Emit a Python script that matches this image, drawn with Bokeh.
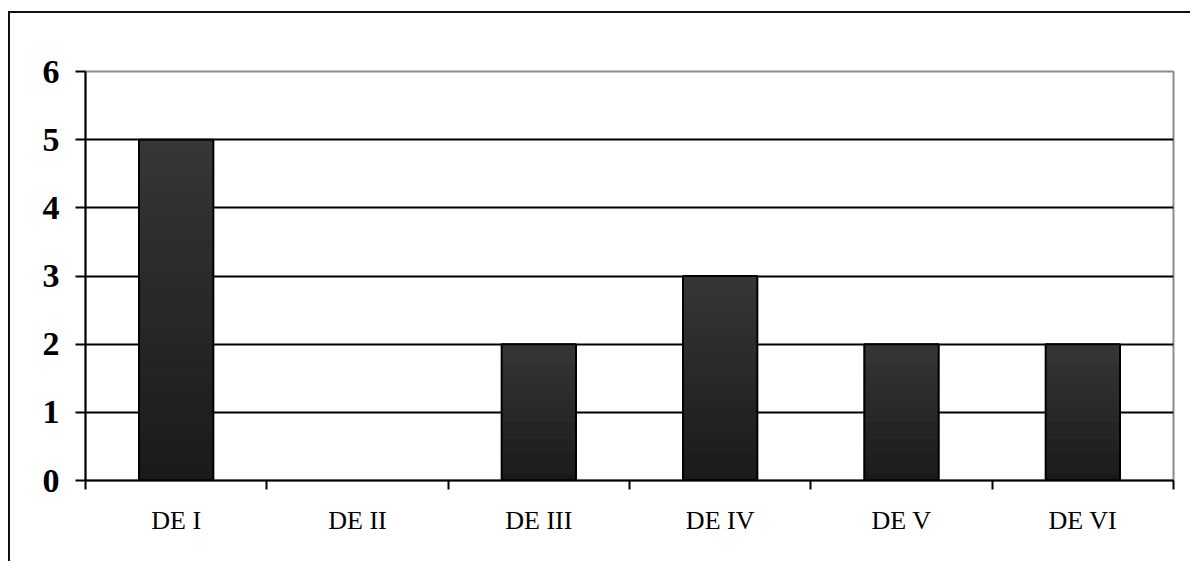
from bokeh.plotting import figure
from bokeh.models import FixedTicker, Range1d, ColumnDataSource
from bokeh.embed import file_html
from bokeh.resources import INLINE

categories = ["DE I", "DE II", "DE III", "DE IV", "DE V", "DE VI"]
values = [5, 0, 2, 3, 2, 2]
y_ticks = [0, 1, 2, 3, 4, 5, 6]

BAR_W = 0.41
N_SEG = 40
TOP_SHADE = 0x36
BOT_SHADE = 0x1a

p = figure(width=1182, height=550,
           x_range=Range1d(0, len(categories)), y_range=Range1d(0, 6),
           output_backend="svg", toolbar_location=None,
           min_border_left=75, min_border_top=58,
           min_border_right=19, min_border_bottom=83)
p.styles = {"border-left": "2px solid #111111", "border-top": "2px solid #111111",
            "margin-left": "8px", "margin-top": "11px"}

# gradient bars built from the data values
seg = dict(left=[], right=[], bottom=[], top=[], color=[])
for i, v in enumerate(values):
    if v <= 0:
        continue
    for k in range(N_SEG):
        t = (k + 0.5) / N_SEG
        c = int(round(BOT_SHADE + (TOP_SHADE - BOT_SHADE) * t))
        seg["left"].append(i + 0.5 - BAR_W / 2)
        seg["right"].append(i + 0.5 + BAR_W / 2)
        seg["bottom"].append(v * k / N_SEG)
        seg["top"].append(v * (k + 1) / N_SEG)
        seg["color"].append("#%02x%02x%02x" % (c, c, c))
p.quad(left="left", right="right", bottom="bottom", top="top",
       fill_color="color", line_color="color", line_width=1,
       source=ColumnDataSource(seg))

idx = [i for i, v in enumerate(values) if v > 0]
p.quad(left=[i + 0.5 - BAR_W / 2 for i in idx],
       right=[i + 0.5 + BAR_W / 2 for i in idx],
       bottom=[0] * len(idx), top=[values[i] for i in idx],
       fill_color=None, line_color="black", line_width=2)

# y axis
p.yaxis.ticker = FixedTicker(ticks=y_ticks)
p.yaxis.major_tick_in = 0
p.yaxis.major_tick_out = 10
p.yaxis.minor_tick_out = 0
p.yaxis.minor_tick_in = 0
p.yaxis.axis_line_width = 2
p.yaxis.major_tick_line_width = 2
p.yaxis.axis_line_color = "black"
p.yaxis.major_tick_line_color = "black"
p.yaxis.major_label_text_font = "Liberation Serif"
p.yaxis.major_label_text_font_style = "bold"
p.yaxis.major_label_text_font_size = "34px"
p.yaxis.major_label_text_color = "black"
p.yaxis.major_label_standoff = 16

# x axis: labels at centers, ticks at boundaries
p.xaxis.ticker = FixedTicker(ticks=[i + 0.5 for i in range(len(categories))],
                             minor_ticks=list(range(len(categories) + 1)))
p.xaxis.major_label_overrides = {i + 0.5: c for i, c in enumerate(categories)}
p.xaxis.major_tick_in = 0
p.xaxis.major_tick_out = 0
p.xaxis.minor_tick_in = 0
p.xaxis.minor_tick_out = 9
p.xaxis.minor_tick_line_width = 2
p.xaxis.minor_tick_line_color = "black"
p.xaxis.axis_line_width = 2
p.xaxis.axis_line_color = "black"
p.xaxis.major_label_text_font = "Liberation Serif"
p.xaxis.major_label_text_font_size = "26px"
p.xaxis.major_label_text_color = "black"
p.xaxis.major_label_standoff = 16

p.xgrid.visible = False
p.ygrid.ticker = FixedTicker(ticks=[1, 2, 3, 4, 5])
p.ygrid.grid_line_color = "black"
p.ygrid.grid_line_width = 2

p.outline_line_color = "#8c8c8c"
p.outline_line_width = 2
p.background_fill_color = "white"
p.border_fill_color = "white"

open("out.html", "w").write(file_html(p, INLINE))
